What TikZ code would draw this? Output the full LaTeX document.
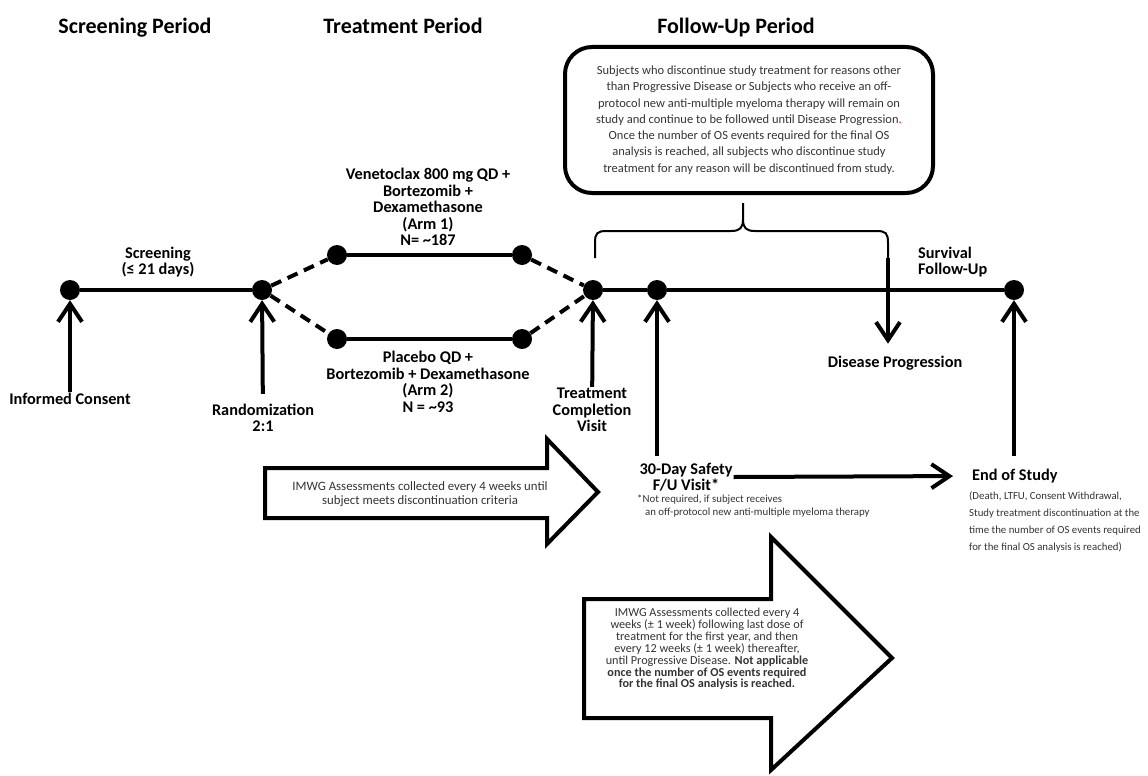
\documentclass[tikz,border=0pt]{standalone}
\usepackage{fontspec}
\setmainfont{Carlito}
\usetikzlibrary{arrows.meta}

\begin{document}
\begin{tikzpicture}[x=1pt,y=-1pt,
    dot/.style={circle,fill,inner sep=0pt,minimum size=20pt},
    line/.style={line width=4pt},
    dsh/.style={line width=4pt,dash pattern=on 11pt off 7pt},
    arr/.style={line width=4pt,-{Straight Barb[length=18pt,width=24pt]}},
    ttl/.style={font=\fontsize{22}{24}\selectfont\bfseries,anchor=base},
    lab/.style={font=\fontsize{16.3}{16.5}\selectfont\bfseries,align=center,inner sep=1pt},
    note/.style={font=\fontsize{10.8}{17}\selectfont,text=black!80,align=left,inner sep=0pt},
    bignote/.style={font=\fontsize{12.8}{14}\selectfont,text=black!80,align=center}
  ]
        \useasboundingbox (0,0) rectangle (1148,776);

        % period headings
        \node[ttl] (hscr) at (135,34) {Screening Period};
        \node[ttl] (htrt) at (403,34) {Treatment Period};
        \node[ttl] (hfu) at (736,34) {Follow-Up Period};

        % timeline points
        \node[dot] (ic) at (70,290) {};
        \node[dot] (rnd) at (262,290) {};
        \node[dot] (a1l) at (337,255) {};
        \node[dot] (a1r) at (522,255) {};
        \node[dot] (a2l) at (337,339) {};
        \node[dot] (a2r) at (522,339) {};
        \node[dot] (tc) at (593,290) {};
        \node[dot] (fu) at (657,290) {};
        \node[dot] (eos) at (1014,290) {};

        \draw[line] (ic) -- (rnd);
        \draw[dsh] (rnd) -- (a1l);
        \draw[line] (a1l) -- (a1r);
        \draw[dsh] (a1r) -- (tc);
        \draw[dsh] (rnd) -- (a2l);
        \draw[line] (a2l) -- (a2r);
        \draw[dsh] (a2r) -- (tc);
        \draw[line] (tc) -- (fu) -- (eos);

        % labels
        \node[lab] (scr) at (158,262) {Screening\\(≤ 21 days)};
        \node[lab] (arm1) at (428,207) {Venetoclax 800 mg QD +\\Bortezomib +\\Dexamethasone\\(Arm 1)\\N= \textasciitilde187};
        \node[lab] (arm2) at (428,382) {Placebo QD +\\Bortezomib + Dexamethasone\\(Arm 2)\\N = \textasciitilde93};
        \node[lab] (iclab) at (70,399) {Informed Consent};
        \node[lab] (rndlab) at (263,418) {Randomization\\2:1};
        \node[lab] (tclab) at (592,410) {Treatment\\Completion\\Visit};
        \node[lab] (dp) at (895,363) {Disease Progression};
        \node[lab,anchor=west,align=left] (surv) at (917,262) {Survival\\Follow-Up};
        \node[lab] (fulab) at (686,477) {30-Day Safety\\F/U Visit*};
        \node[lab,anchor=west] (eoslab) at (971,476) {End of Study};
        \node[note,font=\fontsize{10.8}{13}\selectfont,anchor=north west] (funote) at (637,495) {*Not required, if subject receives\\\hspace*{8pt}an off-protocol new anti-multiple myeloma therapy};
        \node[note,anchor=north west] (eosnote) at (969,491) {(Death, LTFU, Consent Withdrawal,\\Study treatment discontinuation at the\\time the number of OS events required\\for the final OS analysis is reached)};

        \draw[arr] (iclab) -- (ic);
        \draw[arr,shorten <=9pt] (rndlab) -- (rnd);
        \draw[arr] (tclab) -- (tc);
        \draw[arr,shorten <=6pt] (fu |- fulab.north) -- (fu);
        \draw[arr,shorten <=12pt] (eos |- eoslab.north) -- (eos);
        \draw[arr,shorten >=18pt] (fulab.east) -- (eoslab.west);

        % follow-up note and brace
        \node[draw,line width=4pt,rounded corners=27pt,minimum width=368pt,minimum height=146pt,
          font=\fontsize{12.5}{16.3}\selectfont,text=black!80,align=center] (fubox) at (749,120)
          {Subjects who discontinue study treatment for reasons other\\
           than Progressive Disease or Subjects who receive an off-\\
           protocol new anti-multiple myeloma therapy will remain on\\
           study and continue to be followed until Disease Progression{\color{red}.}\\
           Once the number of OS events required for the final OS\\
           analysis is reached, all subjects who discontinue study\\
           treatment for any reason will be discontinued from study.};
        \coordinate (brL) at (595,258);
        \coordinate (brT) at (743,203);
        \coordinate (brR) at (888,258);
        \draw[line width=2pt] (brL) -- (595,243) .. controls (595,233) and (597,231) .. (607,231)
          -- (731,231) .. controls (740,231) and (743,228) .. (743,219) -- (brT)
          -- (743,219) .. controls (743,228) and (746,231) .. (755,231)
          -- (876,231) .. controls (886,231) and (888,233) .. (888,243) -- (brR);
        \draw[arr,shorten >=11pt] (brR) -- (brR |- dp.north);

        % assessment arrows
        \draw[line] (265,468) -- (547,468) -- (547,439) -- (598,492) -- (547,544) -- (547,518) -- (265,518) -- cycle;
        \node[bignote] (imwg1) at (420,494) {IMWG Assessments collected every 4 weeks until\\subject meets discontinuation criteria};
        \draw[line] (584,599) -- (771,599) -- (771,537) -- (892,658) -- (771,770) -- (771,718) -- (584,718) -- cycle;
        \node[bignote,font=\fontsize{12.2}{11.9}\selectfont] (imwg2) at (707,649) {IMWG Assessments collected every 4\\
          weeks (± 1 week) following last dose of\\
          treatment for the first year, and then\\
          every 12 weeks (± 1 week) thereafter,\\
          until Progressive Disease. \textbf{Not applicable}\\
          \textbf{once the number of OS events required}\\
          \textbf{for the final OS analysis is reached.}};
      \end{tikzpicture}
\end{document}
